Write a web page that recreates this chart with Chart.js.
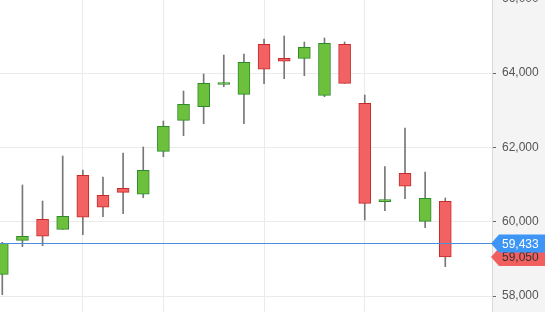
<!DOCTYPE html>
<html>
<head>
<meta charset="utf-8">
<script src="https://cdn.jsdelivr.net/npm/chart.js@4/dist/chart.umd.min.js"></script>
<style>
  html, body { margin: 0; padding: 0; background: #fff; }
  #wrap { width: 545px; height: 312px; }
</style>
</head>
<body>
<div id="wrap"><canvas id="candles" width="545" height="312"></canvas></div>
<script>
// daily candles, index 0..22
const opens  = [58584, 59499, 60064, 59795, 61248, 60710, 60898, 60737, 61893, 62727, 63093, 63690,
                63427, 64772, 64395, 64395, 63400, 64772, 63185, 60540, 61302, 60010, 60548];
const highs  = [59445, 60987, 60556, 61767, 61390, 61202, 61848, 62009, 62709, 63516, 63973, 64484,
                64511, 64915, 64995, 64834, 64942, 64834, 63408, 61479, 62520, 61337, 60637];
const lows   = [58035, 59327, 59354, 59795, 59650, 60134, 60217, 60645, 61748, 62313, 62636, 63631,
                62636, 63712, 63847, 63927, 63362, 63723, 60045, 60295, 60618, 59838, 58789];
const closes = [59418, 59607, 59607, 60145, 60118, 60387, 60790, 61382, 62566, 63158, 63723, 63735,
                64288, 64100, 64315, 64691, 64799, 63723, 60494, 60580, 60952, 60629, 59050];

const yTicks = [58000, 60000, 62000, 64000, 66000];
const weekStarts = [4, 8, 13, 18]; // vertical grid lines
const refPrice = 59433;
const lastPrice = closes[closes.length - 1];

const UP_FILL = '#6cc03c', UP_LINE = '#2f8a2c';
const DN_FILL = '#f26262', DN_LINE = '#c62a2a';

const bodies = opens.map((o, i) => ({ x: i, y: [o, closes[i]] }));
const wicks = lows.map((l, i) => ({ x: i, y: [l, highs[i]] }));
const isUp = opens.map((o, i) => closes[i] >= o);

// grey panel behind the price axis
const axisPanel = {
    id: 'axisPanel',
    beforeDraw(chart) {
        const { ctx, chartArea } = chart;
        ctx.save();
        ctx.fillStyle = '#f4f4f4';
        ctx.fillRect(chartArea.right, 0, chart.width - chartArea.right, chart.height);
        ctx.restore();
    }
};

function priceTag(ctx, x, y, w, fill, txt, txtColor) {
    ctx.beginPath();
    ctx.moveTo(x, y);
    ctx.lineTo(x + 8, y - 9);
    ctx.lineTo(x + w, y - 9);
    ctx.lineTo(x + w, y + 9);
    ctx.lineTo(x + 8, y + 9);
    ctx.closePath();
    ctx.fillStyle = fill;
    ctx.fill();
    ctx.fillStyle = txtColor;
    ctx.font = '12px "Liberation Sans", Arial, sans-serif';
    ctx.textBaseline = 'middle';
    ctx.textAlign = 'left';
    ctx.fillText(txt, x + 11, y + 1);
}

const priceLines = {
    id: 'priceLines',
    afterDraw(chart) {
        const { ctx, chartArea } = chart;
        const y = chart.scales.y;
        const yRef = Math.round(y.getPixelForValue(refPrice)) + 0.5;
        const yLast = y.getPixelForValue(lastPrice);
        ctx.save();
        ctx.strokeStyle = '#4a8fdc';
        ctx.lineWidth = 1;
        ctx.beginPath();
        ctx.moveTo(chartArea.left, yRef);
        ctx.lineTo(chartArea.right, yRef);
        ctx.stroke();
        const w = chart.width - chartArea.right + 1;
        priceTag(ctx, chartArea.right - 1, yLast, w, '#f25f5f', lastPrice.toLocaleString('en-US'), '#333');
        priceTag(ctx, chartArea.right - 1, yRef, w, '#3d95f5', refPrice.toLocaleString('en-US'), '#fff');
        ctx.restore();
    }
};

new Chart(document.getElementById('candles'), {
    type: 'bar',
    data: {
        datasets: [
            {
                label: 'body',
                data: bodies,
                order: 1,
                barThickness: 12,
                backgroundColor: isUp.map(u => u ? UP_FILL : DN_FILL),
                borderColor: isUp.map(u => u ? UP_LINE : DN_LINE),
                borderWidth: 1,
                borderSkipped: false,
                minBarLength: 2
            },
            {
                label: 'wick',
                data: wicks,
                order: 2,
                barThickness: 1,
                backgroundColor: '#777',
                borderWidth: 0
            }
        ]
    },
    options: {
        responsive: false,
        animation: false,
        devicePixelRatio: 1,
        grouped: false,
        layout: { padding: 0 },
        plugins: {
            legend: { display: false },
            tooltip: { enabled: false }
        },
        scales: {
            x: {
                type: 'linear',
                offset: false,
                min: -0.114,
                max: 24.32,
                afterBuildTicks: s => { s.ticks = weekStarts.map(v => ({ value: v })); },
                afterFit: s => { s.height = 0; s.paddingLeft = 0; s.paddingRight = 0; },
                ticks: { display: false },
                grid: { color: '#ebebeb', drawTicks: false, offset: false },
                border: { display: false }
            },
            y: {
                position: 'right',
                min: 57570,
                max: 65964,
                afterBuildTicks: s => { s.ticks = yTicks.map(v => ({ value: v })); },
                afterFit: s => { s.width = 53; s.paddingTop = 0; s.paddingBottom = 0; },
                ticks: {
                    padding: 6,
                    color: '#555',
                    font: { family: '"Liberation Sans", Arial, sans-serif', size: 12 },
                    callback: v => v.toLocaleString('en-US')
                },
                grid: { color: '#ebebeb', tickColor: '#666', tickLength: 4 },
                border: { color: '#d8d8d8' }
            }
        }
    },
    plugins: [axisPanel, priceLines]
});
</script>
</body>
</html>
